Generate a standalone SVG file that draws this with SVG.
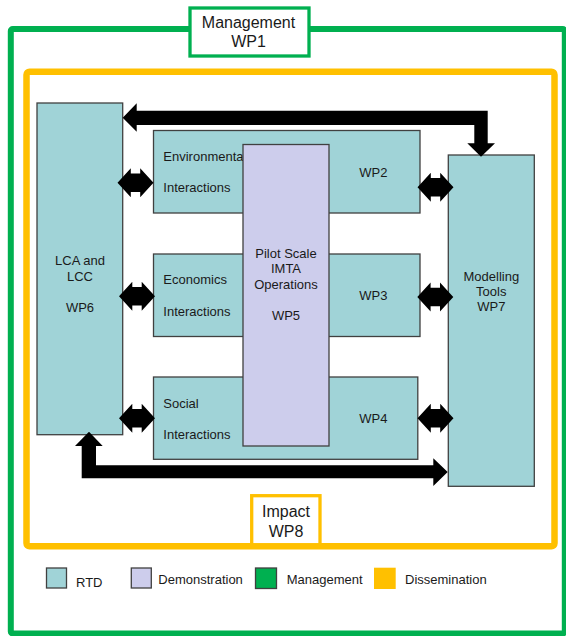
<svg xmlns="http://www.w3.org/2000/svg" width="566" height="636" viewBox="0 0 566 636">
<style>
text{font-family:"Liberation Sans",Arial,sans-serif;fill:#1a1a1a;font-size:13px}
.big{font-size:16px}
.mid{text-anchor:middle}
.rtd{fill:#A0D3D7;stroke:#404040;stroke-width:1.3}
.demo{fill:#CDCDEC;stroke:#404040;stroke-width:1.3}
.arr{fill:#000}
</style>
<defs>
<path id="dbl" d="M-18,0 L-4.7,-14.5 L-4.7,-9.2 L4.7,-9.2 L4.7,-14.5 L18,0 L4.7,14.5 L4.7,9.2 L-4.7,9.2 L-4.7,14.5 Z"/>
</defs>
<rect width="566" height="636" fill="#fff"/>
<g id="management-frame">
<rect x="10.8" y="29" width="554" height="604.5" fill="none" stroke="#00B050" stroke-width="6" rx="2"/>
</g>
<g id="dissemination-frame">
<rect x="26.5" y="71.7" width="528" height="474.6" fill="none" stroke="#FFC000" stroke-width="6.5" rx="3"/>
</g>
<g id="wp1">
<rect x="190" y="8" width="119" height="48" fill="#fff" stroke="#00B050" stroke-width="3.3"/>
<text class="big mid" x="248.5" y="28.3">Management</text>
<text class="big mid" x="248.5" y="47">WP1</text>
</g>
<g id="wp8">
<rect x="251.7" y="495.7" width="68.3" height="49" fill="#fff" stroke="#FFC000" stroke-width="3.3"/>
<text class="big mid" x="286" y="516.7">Impact</text>
<text class="big mid" x="286" y="537.3">WP8</text>
</g>
<g id="wp2">
<rect class="rtd" x="153.5" y="130.5" width="266.5" height="82.5"/>
<text x="163.3" y="160.7">Environmental</text>
<text x="163.3" y="191.7">Interactions</text>
<text x="359.3" y="176.5">WP2</text>
</g>
<g id="wp3">
<rect class="rtd" x="153.5" y="254" width="266.5" height="82.5"/>
<text x="163.3" y="284.3">Economics</text>
<text x="163.3" y="316">Interactions</text>
<text x="359.3" y="300">WP3</text>
</g>
<g id="wp4">
<rect class="rtd" x="153.5" y="377" width="264.3" height="82.3"/>
<text x="163.3" y="408.3">Social</text>
<text x="163.3" y="439">Interactions</text>
<text x="359.3" y="422.7">WP4</text>
</g>
<g id="wp5">
<rect class="demo" x="243" y="144.5" width="86" height="301.5"/>
<text class="mid" x="286" y="257.7">Pilot Scale</text>
<text class="mid" x="286" y="273">IMTA</text>
<text class="mid" x="286" y="288.5">Operations</text>
<text class="mid" x="286" y="319.8">WP5</text>
</g>
<g id="wp6">
<rect class="rtd" x="37" y="103" width="85.7" height="331.7"/>
<text class="mid" x="80" y="265">LCA and</text>
<text class="mid" x="80" y="281">LCC</text>
<text class="mid" x="80" y="312">WP6</text>
</g>
<g id="wp7">
<rect class="rtd" x="448.3" y="155" width="86" height="331.3"/>
<text class="mid" x="491.3" y="280.5">Modelling</text>
<text class="mid" x="491.3" y="296">Tools</text>
<text class="mid" x="491.3" y="311">WP7</text>
</g>
<g id="connectors">
<polygon class="arr" points="122.7,117.8 136.7,103.3 136.7,110.7 487.7,110.7 487.7,143.3 495,143.3 481,156.7 467.3,143.3 474.3,143.3 474.3,125 136.7,125 136.7,131.7"/>
<polygon class="arr" points="89,431.7 102.7,446 96,446 96,465.3 433.3,465.3 433.3,458.3 447.7,472 433.3,486 433.3,478.3 81.7,478.3 81.7,446 75,446"/>
<use href="#dbl" x="135.5" y="182.8"/>
<use href="#dbl" x="435.5" y="187.2"/>
<use href="#dbl" x="137" y="296.3"/>
<use href="#dbl" x="435.3" y="297"/>
<use href="#dbl" x="137" y="418.3"/>
<use href="#dbl" x="435.5" y="418.3"/>
</g>
<g id="legend">
<rect class="rtd" x="46.5" y="568" width="20" height="20"/>
<text x="76" y="586.7">RTD</text>
<rect class="demo" x="131.3" y="568" width="20" height="20"/>
<text x="158.3" y="584.3">Demonstration</text>
<rect x="255.5" y="568" width="21" height="20.5" fill="#00B050" stroke="#404040" stroke-width="1.3"/>
<text x="286.7" y="584.3">Management</text>
<rect x="374" y="567.7" width="21.7" height="21.3" fill="#FFC000"/>
<text x="405" y="584.3">Dissemination</text>
</g>
</svg>
